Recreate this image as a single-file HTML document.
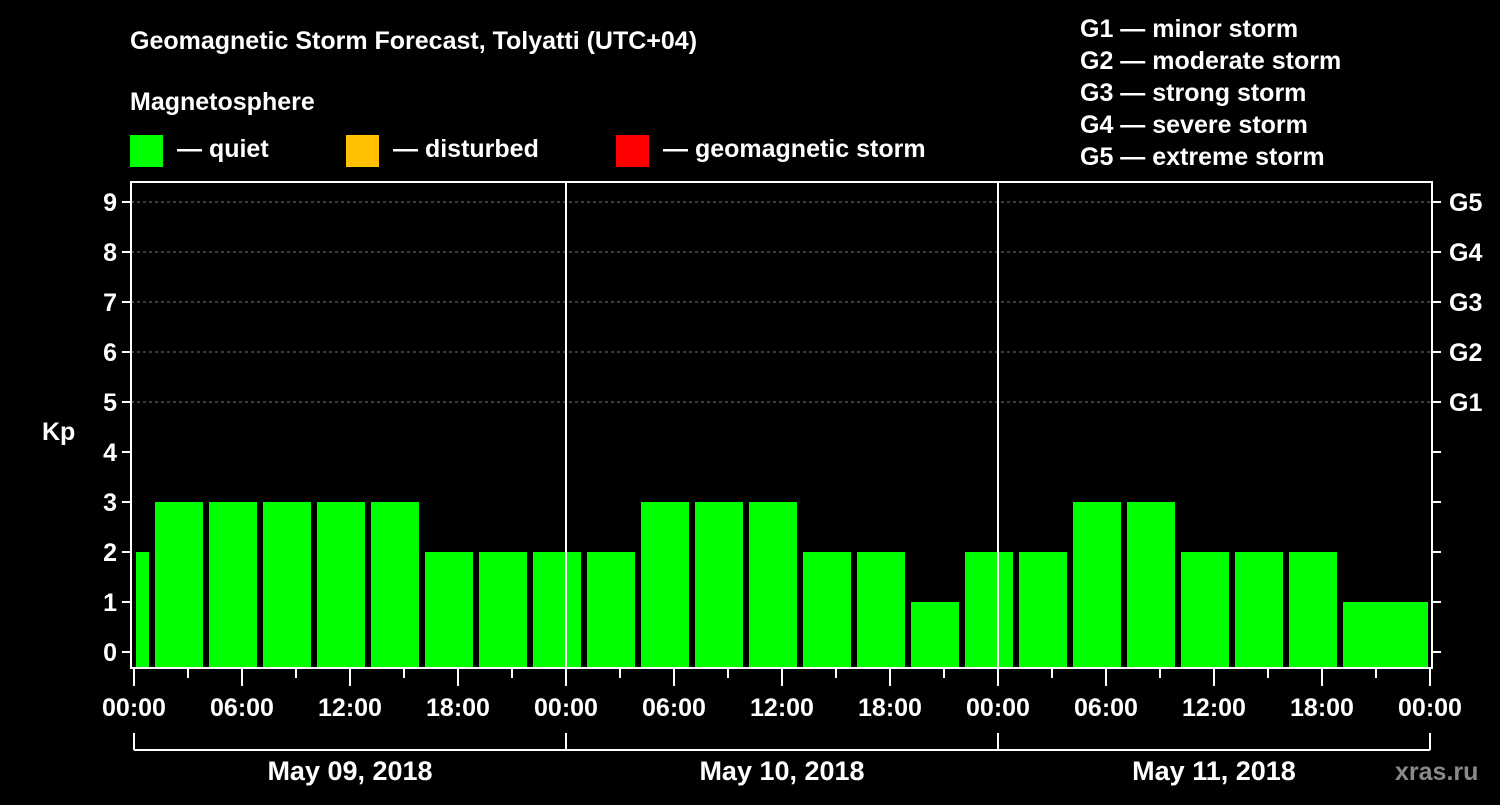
<!DOCTYPE html>
<html><head><meta charset="utf-8"><style>
body{margin:0;background:#000;}
svg text{font-family:"Liberation Sans",sans-serif;font-weight:bold;fill:#fff;}
</style></head><body>
<svg id="c" width="1500" height="800" viewBox="0 0 1500 800">
<rect width="1500" height="800" fill="#000"/>
<text x="130" y="49" font-size="25">Geomagnetic Storm Forecast, Tolyatti (UTC+04)</text>
<text x="130" y="110" font-size="25">Magnetosphere</text>
<g><rect x="130" y="135" width="33" height="32" fill="#00ff00"/><text x="177" y="157" font-size="25">— quiet</text></g>
<g><rect x="346" y="135" width="33" height="32" fill="#ffc000"/><text x="393" y="157" font-size="25">— disturbed</text></g>
<g><rect x="616" y="135" width="33" height="32" fill="#ff0000"/><text x="663" y="157" font-size="25">— geomagnetic storm</text></g>
<g font-size="25">
<text x="1080" y="37">G1 — minor storm</text>
<text x="1080" y="69">G2 — moderate storm</text>
<text x="1080" y="101">G3 — strong storm</text>
<text x="1080" y="133">G4 — severe storm</text>
<text x="1080" y="165">G5 — extreme storm</text>
</g>
<g id="grid"></g><g id="bars"></g><g id="axes"></g>
<text x="42" y="440" font-size="25">Kp</text>
<text x="1395" y="780" font-size="25" fill="#888" style="fill:#8a8a8a">xras.ru</text>
</svg>
<script>
const barStartHours=[0,1,4,7,10,13,16,19,22,25,28,31,34,37,40,43,46,49,52,55,58,61,64,70];
const barEndHours=[1,4,7,10,13,16,19,22,25,28,31,34,37,40,43,46,49,52,55,58,61,64,67,72];
const kpValues=[2,3,3,3,3,3,2,2,2,2,3,3,3,2,2,1,2,2,3,3,2,2,2,1];
const yTicks=[0,1,2,3,4,5,6,7,8,9];
const gLabels=["","","","","","G1","G2","G3","G4","G5"];
const timeLabels=["00:00","06:00","12:00","18:00"];
const dayLabels=["May 09, 2018","May 10, 2018","May 11, 2018"];
// fix last partial bar
barStartHours[23]=67;barEndHours[22]=67;barStartHours[22]=64;
const NS="http://www.w3.org/2000/svg";
const L=131,R=1432,T=182,B=668,X0=134,X1=1430;
const x=h=>X0+(X1-X0)*h/72;
const y=v=>652-50*v;
function mk(p,t,a){const e=document.createElementNS(NS,t);for(const k in a)e.setAttribute(k,a[k]);p.appendChild(e);return e;}
const grid=document.getElementById('grid'),bars=document.getElementById('bars'),axes=document.getElementById('axes');
yTicks.forEach((v,i)=>{
  if(v>=5){const l=mk(grid,'line',{x1:L,x2:R,y1:y(v),y2:y(v),stroke:'#777','stroke-dasharray':'3,3'});
  
  }
  const t=mk(axes,'line',{x1:L-9,x2:L,y1:y(v),y2:y(v),stroke:'#fff','stroke-width':2});
  const t2=mk(axes,'line',{x1:R,x2:R+9,y1:y(v),y2:y(v),stroke:'#fff','stroke-width':2});
  const tx=mk(axes,'text',{x:L-14,y:y(v)+9,'font-size':25,'text-anchor':'end'});tx.textContent=v;
  
  
  if(gLabels[i]){const g=mk(axes,'text',{x:R+17,y:y(v)+9,'font-size':25});g.textContent=gLabels[i];
  
  }
});
kpValues.forEach((v,i)=>{
  const a=x(barStartHours[i])+(i===0?2:3),b=x(barEndHours[i])-(i===kpValues.length-1?2:3);
  const col=v>=5?'#ff0000':(v>=4?'#ffc000':'#00ff00');
  const r=mk(bars,'rect',{x:a,y:y(v),width:b-a,height:B-y(v),fill:col});
  
  
});
[1,2].forEach(d=>{const l=mk(axes,'line',{x1:x(24*d),x2:x(24*d),y1:T,y2:B,stroke:'#fff','stroke-width':2});
  
  });
const f=mk(axes,'rect',{x:L,y:T,width:R-L,height:B-T,fill:'none',stroke:'#fff','stroke-width':2});


for(let h=0;h<=72;h+=3){
  const major=h%6===0;
  mk(axes,'line',{x1:x(h),x2:x(h),y1:B,y2:B+(major?18:10),stroke:'#fff','stroke-width':2});
  if(major){const t=mk(axes,'text',{x:x(h),y:716,'font-size':25,'text-anchor':'middle'});
    t.textContent=h===72?timeLabels[0]:timeLabels[(h%24)/6];
    
    }
}
mk(axes,'line',{x1:x(0),x2:x(72),y1:750,y2:750,stroke:'#fff','stroke-width':2});
for(let d=0;d<=3;d++)mk(axes,'line',{x1:x(24*d),x2:x(24*d),y1:733,y2:750,stroke:'#fff','stroke-width':2});
dayLabels.forEach((s,d)=>{const t=mk(axes,'text',{x:x(24*d+12),y:780,'font-size':27,'text-anchor':'middle'});t.textContent=s;
  
  });
</script>
</body></html>
